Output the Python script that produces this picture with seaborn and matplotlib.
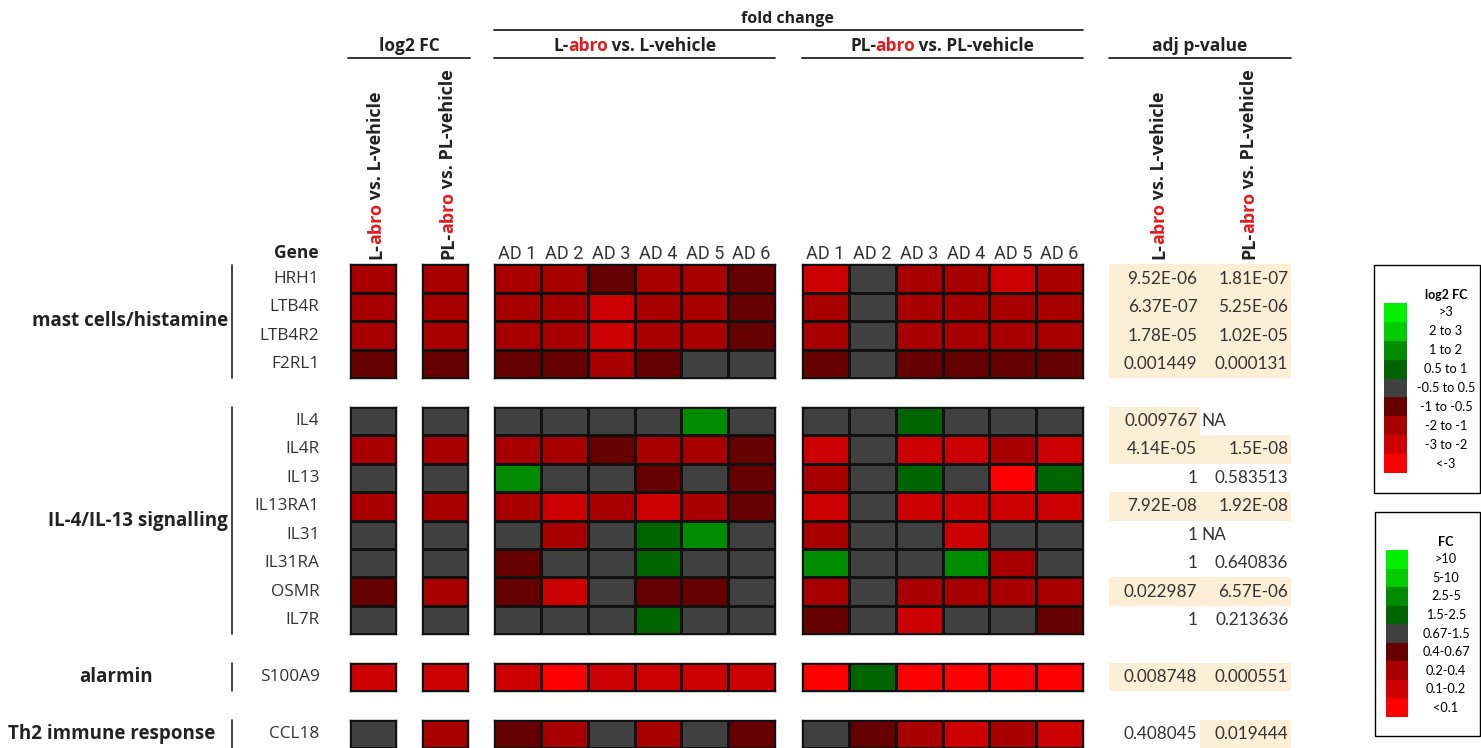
import matplotlib
matplotlib.use("Agg")
import matplotlib.pyplot as plt
from matplotlib.colors import ListedColormap, BoundaryNorm
from matplotlib.patches import Rectangle
import numpy as np
import pandas as pd
import seaborn as sns

# ---- data ----
genes = ["HRH1", "LTB4R", "LTB4R2", "F2RL1", "IL4", "IL4R", "IL13", "IL13RA1",
         "IL31", "IL31RA", "OSMR", "IL7R", "S100A9", "CCL18"]
gene_groups = (["mast cells/histamine"] * 4 + ["IL-4/IL-13 signalling"] * 8
               + ["alarmin", "Th2 immune response"])
group_names = ["mast cells/histamine", "IL-4/IL-13 signalling", "alarmin", "Th2 immune response"]
donors = ["AD 1", "AD 2", "AD 3", "AD 4", "AD 5", "AD 6"]

# log2 fold change, abro vs vehicle (estimated within the colour bins)
log2fc_L = [-1.5, -1.6, -1.4, -0.8, 0.2, -1.5, 0.1, -1.3, 0.0, -0.1, -0.9, 0.1, -2.3, 0.3]
log2fc_PL = [-1.7, -1.5, -1.6, -0.9, 0.0, -1.8, -0.2, -1.9, 0.0, 0.2, -1.4, -0.3, -2.6, -1.2]

# fold change per donor (estimated within the colour bins)
fc_L = [
    [0.30, 0.28, 0.52, 0.32, 0.27, 0.55],
    [0.29, 0.31, 0.16, 0.26, 0.28, 0.48],
    [0.32, 0.27, 0.18, 0.30, 0.25, 0.50],
    [0.50, 0.46, 0.35, 0.55, 0.80, 0.85],
    [1.00, 0.90, 1.10, 1.20, 3.20, 0.90],
    [0.28, 0.30, 0.50, 0.32, 0.26, 0.52],
    [3.00, 1.10, 0.90, 0.55, 0.80, 0.45],
    [0.25, 0.18, 0.28, 0.17, 0.30, 0.50],
    [1.00, 0.30, 0.90, 2.00, 3.40, 1.10],
    [0.50, 0.90, 1.00, 2.10, 0.85, 1.10],
    [0.50, 0.16, 0.90, 0.48, 0.55, 1.20],
    [0.90, 1.00, 1.10, 2.00, 0.80, 1.20],
    [0.14, 0.08, 0.15, 0.13, 0.16, 0.14],
    [0.50, 0.30, 0.90, 0.28, 1.00, 0.55],
]
fc_PL = [
    [0.17, 1.00, 0.30, 0.28, 0.15, 0.30],
    [0.30, 0.90, 0.26, 0.28, 0.30, 0.32],
    [0.32, 1.10, 0.30, 0.27, 0.29, 0.30],
    [0.50, 1.00, 0.55, 0.52, 0.50, 0.48],
    [1.00, 1.00, 2.00, 1.10, 0.90, 1.00],
    [0.16, 1.00, 0.17, 0.15, 0.25, 0.18],
    [0.30, 1.00, 2.10, 0.90, 0.06, 2.20],
    [0.18, 0.95, 0.16, 0.15, 0.17, 0.16],
    [0.30, 1.00, 0.90, 0.15, 1.10, 1.00],
    [3.50, 1.00, 1.10, 3.30, 0.30, 0.90],
    [0.28, 1.00, 0.30, 0.26, 0.30, 0.27],
    [0.50, 0.90, 0.17, 1.00, 0.90, 0.55],
    [0.05, 2.00, 0.06, 0.07, 0.05, 0.06],
    [1.00, 0.50, 0.30, 0.17, 0.28, 0.16],
]

padj_L = ["9.52E-06", "6.37E-07", "1.78E-05", "0.001449", "0.009767", "4.14E-05", "1",
          "7.92E-08", "1", "1", "0.022987", "1", "0.008748", "0.408045"]
padj_PL = ["1.81E-07", "5.25E-06", "1.02E-05", "0.000131", "NA", "1.5E-08", "0.583513",
           "1.92E-08", "NA", "0.640836", "6.57E-06", "0.213636", "0.000551", "0.019444"]

log2_bins = [-10, -3, -2, -1, -0.5, 0.5, 1, 2, 3, 10]
fc_bins = [0, 0.1, 0.2, 0.4, 0.67, 1.5, 2.5, 5, 10, 1000]
bin_colors = ["#ff0000", "#cc0000", "#a80000", "#660000", "#404040",
              "#006400", "#008c00", "#00cc00", "#00f000"]
log2_legend = [">3", "2 to 3", "1 to 2", "0.5 to 1", "-0.5 to 0.5",
               "-1 to -0.5", "-2 to -1", "-3 to -2", "<-3"]
log2_legend_vals = [3.5, 2.5, 1.5, 0.75, 0.0, -0.75, -1.5, -2.5, -3.5]
fc_legend = [">10", "5-10", "2.5-5", "1.5-2.5", "0.67-1.5", "0.4-0.67", "0.2-0.4", "0.1-0.2", "<0.1"]
fc_legend_vals = [15, 7, 3.5, 2, 1, 0.5, 0.3, 0.15, 0.05]

# ---- styling ----
sns.set_style("white")
plt.rcParams["font.family"] = ["Open Sans", "DejaVu Sans"]
CALIBRI_LIKE = ["Lato", "DejaVu Sans"]

W, H = 1481, 748
fig = plt.figure(figsize=(W / 100, H / 100), dpi=100)

cmap = ListedColormap(bin_colors)
log2_norm = BoundaryNorm(log2_bins, cmap.N)
fc_norm = BoundaryNorm(fc_bins, cmap.N)
pcmap = ListedColormap(["#ffffff", "#fcefd5"])

RED = "#e31a1c"
DARK = "#222222"
GREY = "#333333"


def px_axes(x0, y0, x1, y1):
    return fig.add_axes([x0 / W, 1 - y1 / H, (x1 - x0) / W, (y1 - y0) / H])


over = fig.add_axes([0, 0, 1, 1])
over.set_xlim(0, W)
over.set_ylim(H, 0)
over.axis("off")

log2_df = pd.DataFrame({"L": log2fc_L, "PL": log2fc_PL}, index=genes)
fcL_df = pd.DataFrame(fc_L, index=genes, columns=donors)
fcPL_df = pd.DataFrame(fc_PL, index=genes, columns=donors)

blocks = [
    (350, 396, log2_df[["L"]], log2_norm, "genes"),
    (422, 468, log2_df[["PL"]], log2_norm, None),
    (494, 775, fcL_df, fc_norm, "donors"),
    (802, 1083, fcPL_df, fc_norm, "donors"),
]

y0, rh = 264.5, 28.45
row = 0
for gi, g in enumerate(group_names):
    idx = [i for i, gg in enumerate(gene_groups) if gg == g]
    top = y0 + row * rh
    bot = top + len(idx) * rh
    row += len(idx) + 1

    for bx0, bx1, df, norm, labels in blocks:
        ax = px_axes(bx0, top, bx1, bot)
        sub = df.iloc[idx]
        sns.heatmap(sub, ax=ax, cmap=cmap, norm=norm, cbar=False,
                    linewidths=0.8, linecolor="#111111",
                    xticklabels=(donors if (labels == "donors" and gi == 0) else False),
                    yticklabels=(list(sub.index) if labels == "genes" else False))
        for s in ax.spines.values():
            s.set_visible(True)
            s.set_linewidth(1.0)
            s.set_edgecolor("#111111")
        if labels == "donors" and gi == 0:
            ax.xaxis.tick_top()
            ax.tick_params(axis="x", length=0, pad=1)
            for t in ax.get_xticklabels():
                t.set_fontfamily(["Roboto", "DejaVu Sans"])
                t.set_fontsize(13)
                t.set_color(GREY)
                t.set_rotation(0)
        if labels == "genes":
            ax.tick_params(axis="y", length=0, pad=22)
            for t in ax.get_yticklabels():
                t.set_fontsize(12.4)
                t.set_color(GREY)
                t.set_rotation(0)
        ax.set_xlabel("")
        ax.set_ylabel("")

    # adjusted p-values with shaded significant cells
    pax = px_axes(1109, top, 1291, bot)
    sig = [[1 if (padj_L[i] != "NA" and float(padj_L[i]) < 0.05) else 0,
            1 if (padj_PL[i] != "NA" and float(padj_PL[i]) < 0.05) else 0] for i in idx]
    sns.heatmap(pd.DataFrame(sig), ax=pax, cmap=pcmap, vmin=0, vmax=1, cbar=False,
                linewidths=0, xticklabels=False, yticklabels=False)
    for r, i in enumerate(idx):
        for c, val in enumerate([padj_L[i], padj_PL[i]]):
            if val == "NA":
                pax.text(c + 0.02, r + 0.5, val, ha="left", va="center",
                         fontsize=12.3, color=GREY, family=CALIBRI_LIKE)
            else:
                pax.text(c + 0.97, r + 0.5, val, ha="right", va="center",
                         fontsize=12.3, color=GREY, family=CALIBRI_LIKE)

    # group bracket and label
    over.plot([232, 232], [top, bot], color=DARK, lw=1.2)
    yc = (top + bot) / 2
    if g == "alarmin":
        over.text(116, yc, g, ha="center", va="center", fontsize=13.5, fontweight="bold", color=DARK)
    elif g == "Th2 immune response":
        over.text(215, yc, g, ha="right", va="center", fontsize=13.5, fontweight="bold", color=DARK)
    else:
        over.text(228, yc, g, ha="right", va="center", fontsize=13.5, fontweight="bold", color=DARK)


renderer = fig.canvas.get_renderer()


def multicolor(x, y, parts, size, rotation=0, center=False, gap=-1.0):
    texts = [over.text(x, y, s, color=c, fontsize=size, fontweight="bold",
                       rotation=rotation, rotation_mode="anchor", ha="left", va="baseline")
             for s, c in parts]
    ext = [t.get_window_extent(renderer) for t in texts]
    lens = [e.width if rotation == 0 else e.height for e in ext]
    total = sum(lens) + gap * (len(lens) - 1)
    if rotation == 0:
        pos = x - total / 2 if center else x
        for t, L in zip(texts, lens):
            t.set_x(pos)
            pos += L + gap
    else:
        pos = y
        for t, L in zip(texts, lens):
            t.set_y(pos)
            pos -= L + gap


L_parts = [("L-", DARK), ("abro", RED), (" vs. L-vehicle", DARK)]
PL_parts = [("PL-", DARK), ("abro", RED), (" vs. PL-vehicle", DARK)]

# headers
over.text(787, 23, "fold change", ha="center", va="baseline", fontsize=11.5, fontweight="bold", color=DARK)
over.plot([494, 1083], [30, 30], color=DARK, lw=1.3)
over.text(409, 51, "log2 FC", ha="center", va="baseline", fontsize=12.5, fontweight="bold", color=DARK)
multicolor(635, 51, L_parts, 12.5, center=True)
multicolor(942, 51, PL_parts, 12.5, center=True)
over.text(1200, 51, "adj p-value", ha="center", va="baseline", fontsize=12.5, fontweight="bold", color=DARK)
for xa, xb in [(348, 470), (494, 775), (802, 1083), (1109, 1291)]:
    over.plot([xa, xb], [58, 58], color=DARK, lw=1.3)

multicolor(381, 259, L_parts, 13, rotation=90)
multicolor(453, 259, PL_parts, 13, rotation=90)
multicolor(1164, 259, L_parts, 13, rotation=90)
multicolor(1254, 259, PL_parts, 13, rotation=90)
over.text(296, 258, "Gene", ha="center", va="baseline", fontsize=12.5, fontweight="bold", color=DARK)

# legends
for (bx0, by0, bx1, by1), (sx0, sy0, sx1, sy1), title, labels, vals, norm in [
    ((1374, 265, 1480, 493), (1384, 303, 1407, 473), "log2 FC", log2_legend, log2_legend_vals, log2_norm),
    ((1375, 512, 1480, 736), (1386, 550, 1408, 717), "FC", fc_legend, fc_legend_vals, fc_norm),
]:
    over.add_patch(Rectangle((bx0, by0), bx1 - bx0, by1 - by0, fill=False, ec="black", lw=1.0))
    lax = px_axes(sx0, sy0, sx1, sy1)
    sns.heatmap(pd.DataFrame({"v": vals}), ax=lax, cmap=cmap, norm=norm, cbar=False,
                linewidths=0, xticklabels=False, yticklabels=False)
    lax.set_xlabel("")
    lax.set_ylabel("")
    over.text(1446, sy0 - 4, title, ha="center", va="baseline", fontsize=9,
              fontweight="bold", color="black", family=CALIBRI_LIKE)
    step = (sy1 - sy0) / len(labels)
    for k, lab in enumerate(labels):
        over.text(1446, sy0 + (k + 0.5) * step, lab, ha="center", va="center",
                  fontsize=9.2, color="black", family=CALIBRI_LIKE)

fig.savefig("out.png", dpi=100)
